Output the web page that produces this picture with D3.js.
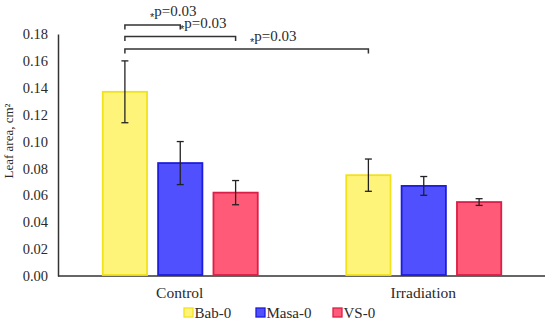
<!DOCTYPE html>
<html><head><meta charset="utf-8">
<script src="https://cdn.jsdelivr.net/npm/d3@7/dist/d3.min.js"></script>
<style>body{margin:0;background:#fff}svg{display:block}text{font-family:"Liberation Serif","DejaVu Serif",serif}</style>
</head><body><svg id="c" width="550" height="327"></svg>
<script>
const groups = ["Control", "Irradiation"];
const series = ["Bab-0", "Masa-0", "VS-0"];
const values = [[0.137, 0.084, 0.062], [0.075, 0.067, 0.055]];
const errors = [[0.023, 0.016, 0.009], [0.012, 0.007, 0.0025]];
const yTicks = [0, 0.02, 0.04, 0.06, 0.08, 0.10, 0.12, 0.14, 0.16, 0.18];
const fills = ["#FFF47A", "#5050FF", "#FF5A78"];
const strokes = ["#F2E21C", "#1C1CDC", "#DC1E48"];
const comparisons = [
  {from: [0, 0], to: [0, 1], label: "p=0.03"},
  {from: [0, 0], to: [0, 2], label: "p=0.03"},
  {from: [0, 0], to: [1, 0], label: "p=0.03"}
];

(function () {
const svg = d3.select("#c");
const txt = "#2a2a2a";
const mLeft = 58, mRight = 545, mTop = 34, mBottom = 276;
const y = d3.scaleLinear().domain([0, 0.18]).range([mBottom, mTop]);
const x0 = d3.scaleBand().domain(groups).range([mLeft, mRight]);
const x1 = d3.scaleBand().domain(series).range([-77, 78]).paddingInner(0.2);

// y axis
const ya = svg.append("g").attr("transform", `translate(${mLeft},0)`)
  .call(d3.axisLeft(y).tickValues(yTicks).tickFormat(d3.format(".2f")).tickSize(0).tickPadding(10));
ya.select(".domain").attr("stroke", "#333").attr("stroke-width", 1.5);
ya.selectAll("text").style("font-size", "14.5px").attr("fill", txt).style("font-family", '"Liberation Serif",serif');

// x axis
const xa = svg.append("g").attr("transform", `translate(0,${mBottom})`)
  .call(d3.axisBottom(x0).tickSize(0).tickPadding(11));
xa.select(".domain").attr("stroke", "#333").attr("stroke-width", 1.5).attr("d", `M${mLeft},0H${mRight}`);
xa.selectAll("text").style("font-size", "15.5px").attr("fill", txt).style("font-family", '"Liberation Serif",serif');

function cx(g, s) { return x0(groups[g]) + x0.bandwidth() / 2 + x1(series[s]) + x1.bandwidth() / 2; }

// bars
groups.forEach((g, gi) => {
  series.forEach((s, si) => {
    const xl = x0(g) + x0.bandwidth() / 2 + x1(s);
    svg.append("rect").attr("x", xl).attr("y", y(values[gi][si]))
      .attr("width", x1.bandwidth()).attr("height", y(0) - y(values[gi][si]) - 1)
      .attr("fill", fills[si]).attr("stroke", strokes[si]).attr("stroke-width", 1.8);
  });
});
// error bars
groups.forEach((g, gi) => {
  series.forEach((s, si) => {
    const c = cx(gi, si), v = values[gi][si], e = errors[gi][si];
    const eg = svg.append("g").attr("stroke", "#222").attr("stroke-width", 1.3);
    eg.append("line").attr("x1", c).attr("x2", c).attr("y1", y(v + e)).attr("y2", y(v - e));
    eg.append("line").attr("x1", c - 3.5).attr("x2", c + 3.5).attr("y1", y(v + e)).attr("y2", y(v + e));
    eg.append("line").attr("x1", c - 3.5).attr("x2", c + 3.5).attr("y1", y(v - e)).attr("y2", y(v - e));
  });
});

// significance brackets
const bracketY = [25, 36.5, 49];
const labelPos = [[150, 16], [180, 27.5], [250, 41]];
comparisons.forEach((cmp, i) => {
  const xa_ = cx(cmp.from[0], cmp.from[1]), xb = cx(cmp.to[0], cmp.to[1]);
  const by = bracketY[i];
  svg.append("path").attr("d", `M${xa_},${by + 4.5}V${by}H${xb}V${by + 4.5}`)
    .attr("fill", "none").attr("stroke", "#333").attr("stroke-width", 1.5);
  const t = svg.append("text").attr("x", labelPos[i][0]).attr("y", labelPos[i][1])
    .attr("fill", txt).style("font-size", "15px");
  t.append("tspan").text("*").attr("dy", 5).attr("fill", txt)
    .style("font-family", '"Liberation Sans","DejaVu Sans",sans-serif').style("font-size", "11px");
  t.append("tspan").text(cmp.label).attr("dy", -5).attr("fill", txt);
});

// y title
svg.append("text").attr("transform", "translate(13,141) rotate(-90)").attr("text-anchor", "middle")
  .attr("fill", txt).style("font-size", "13px").text("Leaf area, cm²");

// legend
const legX = [184, 256, 333];
series.forEach((s, si) => {
  svg.append("rect").attr("x", legX[si]).attr("y", 308).attr("width", 9).attr("height", 9)
    .attr("fill", fills[si]).attr("stroke", strokes[si]).attr("stroke-width", 1.3);
  svg.append("text").attr("x", legX[si] + 10.5).attr("y", 318).attr("fill", txt)
    .style("font-size", "15px").text(s);
});
})();
</script></body></html>
